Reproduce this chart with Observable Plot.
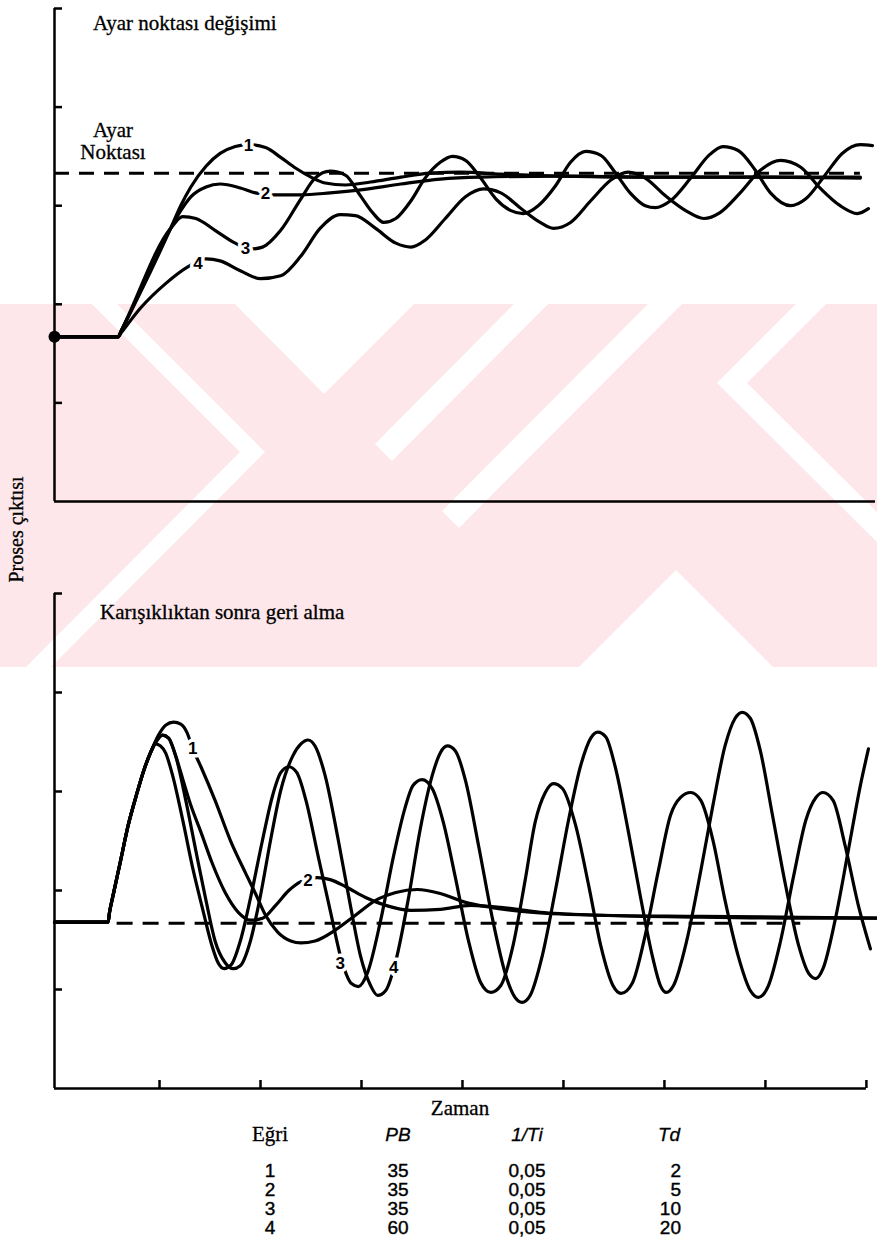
<!DOCTYPE html>
<html><head><meta charset="utf-8">
<script src="https://cdn.jsdelivr.net/npm/d3@7"></script>
<script src="https://cdn.jsdelivr.net/npm/@observablehq/plot@0.6"></script>
<style>
body{margin:0;background:#fff;}
#page{position:relative;width:877px;height:1254px;overflow:hidden;font-family:"Liberation Serif","Times New Roman",serif;color:#000;}
.abs{position:absolute;white-space:nowrap;}
#wm{position:absolute;left:0;top:0;}
#top,#bot{position:absolute;left:0;}
#top{top:0;}
#bot{top:560px;}
.ser{font-family:"Liberation Serif",serif;font-size:21px;-webkit-text-stroke:0.3px #000;}
.tbl{position:absolute;white-space:pre;font-family:"Liberation Sans",Arial,sans-serif;font-size:19px;line-height:19px;-webkit-text-stroke:0.4px #000;}
</style></head><body><div id="page">
<svg id="wm" width="877" height="1254" xmlns="http://www.w3.org/2000/svg">
  <defs><clipPath id="band"><rect x="0" y="304" width="877" height="363"/></clipPath></defs>
  <g clip-path="url(#band)">
    <rect x="0" y="304" width="877" height="363" fill="#fde7eb"/>
    <g fill="#fff">
      <polygon points="92,304 117,304 265,452 51,667 26,667 240,452"/>
      <polygon points="235,304 414,304 324,394"/>
      <polygon points="514,304 548,304 392,461 375,444"/>
      <polygon points="648,304 682,304 459,528 442,511"/>
      <polygon points="796,304 826,304 747,383 877,512 877,542 717,383"/>
      <polygon points="676,570 773,667 579,667"/>
    </g>
  </g>
</svg>
<div id="top"></div>
<div id="bot"></div>
<div class="abs ser" style="left:93px;top:11px;">Ayar noktası değişimi</div>
<div class="abs ser" style="left:68px;top:119px;width:90px;text-align:center;line-height:22px;">Ayar<br>Noktası</div>
<div class="abs ser" style="left:100px;top:600px;">Karışıklıktan sonra geri alma</div>
<div class="abs ser" style="left:-36px;top:519px;width:104px;text-align:center;transform:rotate(-90deg);font-size:20px;">Proses çıktısı</div>
<div class="abs ser" style="left:400px;top:1096px;width:120px;text-align:center;">Zaman</div>
<div id="table"></div>
</div>
<script>
// ---------- data ----------
// time in tick units (ticks at 1..8), level in tick units (ticks at 1..4)
const setpointOld = 1.67;
const setpointNew = 3.33;
const topDashSpan = [-0.04, 7.94];
const botDashSpan = [0.58, 7.35];

const topCurve1 = [[-0.04,1.67],[0.59,1.67],[0.62,1.73],[1.11,2.77],[1.21,3.00],[1.31,3.19],[1.46,3.40],[1.60,3.53],[1.75,3.60],[1.88,3.62],[2.05,3.59],[2.20,3.49],[2.35,3.38],[2.50,3.29],[2.64,3.23],[2.84,3.21],[3.09,3.24],[3.39,3.29],[3.68,3.33],[3.98,3.34],[4.38,3.32],[4.97,3.30],[5.86,3.29],[6.85,3.29],[7.94,3.28]];
const topCurve2 = [[-0.04,1.67],[0.59,1.67],[0.62,1.73],[1.11,2.77],[1.21,2.95],[1.31,3.09],[1.46,3.19],[1.60,3.22],[1.80,3.18],[1.95,3.13],[2.12,3.11],[2.40,3.11],[2.69,3.13],[2.99,3.16],[3.39,3.22],[3.78,3.27],[4.18,3.29],[4.97,3.30],[5.86,3.29],[6.85,3.29],[7.94,3.29]];
const topCurve3 = [[-0.04,1.67],[0.59,1.67],[0.62,1.73],[1.11,2.77],[1.23,2.89],[1.36,2.87],[1.55,2.75],[1.75,2.62],[1.90,2.56],[2.02,2.58],[2.20,2.75],[2.40,3.07],[2.54,3.28],[2.69,3.35],[2.84,3.31],[2.99,3.10],[3.11,2.93],[3.22,2.83],[3.34,2.87],[3.49,3.05],[3.63,3.28],[3.78,3.44],[3.90,3.50],[4.03,3.46],[4.18,3.28],[4.33,3.07],[4.48,2.95],[4.60,2.92],[4.75,3.00],[4.92,3.20],[5.07,3.44],[5.22,3.55],[5.37,3.51],[5.51,3.34],[5.66,3.13],[5.81,3.00],[5.91,2.98],[6.06,3.05],[6.26,3.28],[6.44,3.51],[6.58,3.60],[6.73,3.56],[6.90,3.36],[7.05,3.13],[7.25,3.00],[7.40,3.07],[7.59,3.31],[7.76,3.53],[7.94,3.62],[8.06,3.61]];
const topCurve4 = [[-0.04,1.67],[0.59,1.67],[0.62,1.71],[0.81,1.96],[1.06,2.21],[1.28,2.38],[1.46,2.46],[1.60,2.44],[1.80,2.34],[2.00,2.26],[2.20,2.29],[2.40,2.49],[2.59,2.77],[2.79,2.91],[2.94,2.90],[3.14,2.77],[3.34,2.62],[3.49,2.58],[3.63,2.65],[3.83,2.87],[4.03,3.09],[4.21,3.17],[4.38,3.13],[4.57,2.98],[4.77,2.83],[4.90,2.77],[5.07,2.83],[5.27,3.05],[5.47,3.26],[5.64,3.34],[5.81,3.28],[6.01,3.10],[6.21,2.95],[6.39,2.87],[6.55,2.93],[6.75,3.13],[6.95,3.36],[7.15,3.46],[7.35,3.39],[7.54,3.18],[7.74,3.00],[7.91,2.92],[8.02,2.97]];

const botStart = [[-0.04,1.68],[0.49,1.68],[0.505,1.78],[0.54,1.95],[0.61,2.28],[0.69,2.66],[0.77,2.96],[0.85,3.23],[0.91,3.39]];
const botCurve1 = [[0.99,3.57],[1.06,3.67],[1.14,3.70],[1.21,3.68],[1.27,3.60],[1.33,3.43],[1.41,3.25],[1.55,2.91],[1.70,2.51],[1.85,2.18],[1.95,1.97],[2.05,1.75],[2.17,1.58],[2.30,1.49],[2.40,1.47],[2.54,1.49],[2.74,1.60],[2.94,1.75],[3.14,1.90],[3.34,1.98],[3.55,2.01],[3.78,1.97],[4.03,1.88],[4.28,1.83],[4.67,1.78],[5.37,1.75],[6.36,1.74],[7.35,1.73],[8.11,1.72]];
const botCurve2 = [[0.97,3.51],[1.03,3.57],[1.09,3.54],[1.16,3.36],[1.24,3.09],[1.31,2.86],[1.41,2.59],[1.52,2.28],[1.65,1.98],[1.78,1.78],[1.90,1.70],[2.02,1.72],[2.15,1.85],[2.28,2.00],[2.40,2.09],[2.56,2.13],[2.69,2.11],[2.84,2.04],[3.04,1.93],[3.24,1.85],[3.49,1.80],[3.78,1.81],[4.08,1.85],[4.38,1.83],[4.77,1.78],[5.37,1.75],[6.36,1.73],[7.35,1.72],[8.11,1.72]];
const botCurve3 = [[0.96,3.48],[1.01,3.46],[1.06,3.39],[1.13,3.16],[1.23,2.71],[1.33,2.22],[1.43,1.80],[1.52,1.44],[1.58,1.27],[1.64,1.21],[1.71,1.25],[1.80,1.49],[1.90,1.92],[2.02,2.51],[2.12,2.96],[2.20,3.19],[2.28,3.25],[2.36,3.19],[2.45,2.91],[2.57,2.35],[2.69,1.80],[2.81,1.27],[2.90,1.06],[2.97,1.03],[3.06,1.17],[3.19,1.70],[3.32,2.36],[3.43,2.83],[3.51,3.06],[3.60,3.12],[3.70,3.03],[3.81,2.69],[3.93,2.13],[4.06,1.49],[4.18,1.07],[4.28,0.97],[4.38,1.04],[4.50,1.44],[4.62,2.10],[4.72,2.69],[4.82,2.99],[4.90,3.08],[4.99,3.03],[5.12,2.66],[5.25,2.05],[5.37,1.44],[5.49,1.04],[5.57,0.96],[5.68,1.06],[5.81,1.55],[5.94,2.20],[6.06,2.76],[6.16,2.94],[6.26,2.99],[6.36,2.91],[6.48,2.51],[6.60,1.90],[6.73,1.34],[6.85,0.99],[6.93,0.92],[7.03,1.04],[7.15,1.49],[7.28,2.15],[7.40,2.71],[7.50,2.94],[7.57,2.99],[7.67,2.91],[7.79,2.45],[7.92,1.85],[8.04,1.41]];
const botCurve4 = [[0.97,3.51],[1.03,3.57],[1.09,3.54],[1.16,3.36],[1.26,2.91],[1.36,2.40],[1.46,1.90],[1.55,1.49],[1.65,1.27],[1.73,1.21],[1.80,1.24],[1.90,1.49],[2.00,1.95],[2.10,2.51],[2.20,3.01],[2.32,3.36],[2.40,3.48],[2.47,3.52],[2.54,3.46],[2.64,3.16],[2.77,2.51],[2.89,1.85],[2.99,1.34],[3.09,1.04],[3.16,0.94],[3.24,0.99],[3.34,1.29],[3.47,1.95],[3.58,2.61],[3.70,3.16],[3.78,3.39],[3.85,3.46],[3.93,3.41],[4.03,3.11],[4.16,2.45],[4.30,1.70],[4.43,1.14],[4.52,0.92],[4.59,0.87],[4.67,0.94],[4.79,1.34],[4.92,2.00],[5.05,2.71],[5.17,3.26],[5.27,3.54],[5.34,3.60],[5.42,3.55],[5.51,3.26],[5.64,2.61],[5.76,1.95],[5.88,1.34],[5.96,1.04],[6.02,0.97],[6.09,1.04],[6.22,1.49],[6.36,2.20],[6.48,2.86],[6.60,3.46],[6.70,3.74],[6.77,3.80],[6.85,3.74],[6.95,3.41],[7.07,2.76],[7.20,2.05],[7.33,1.44],[7.43,1.16],[7.50,1.11],[7.57,1.21],[7.69,1.70],[7.82,2.40],[7.94,3.06],[8.02,3.43]];

const curveNames = ["1","2","3","4"];
const topLabelT = [1.88, 2.05, 1.85, 1.38];
const topLabelV = [3.61, 3.12, 2.57, 2.41];
const botLabelT = [1.33, 2.47, 2.79, 3.32];
const botLabelV = [3.43, 2.10, 1.26, 1.22];

const xTicks = [1,2,3,4,5,6,7,8];
const yTicks = [1,2,3,4,5];
const xDomain = [-0.04, 8.09];
const yDomain = [0, 5];

const tableHeader = ["Eğri", "PB", "1/Ti", "Td"];
const tableCurve = ["1","2","3","4"];
const tablePB = ["35","35","35","60"];
const tableTi = ["0,05","0,05","0,05","0,05"];
const tableTd = ["2","5","10","20"];

// ---------- build ----------
const rows = (arr, name) => arr.map(([t, v]) => ({t, v, curve: name}));
const topRows = [topCurve1, topCurve2, topCurve3, topCurve4].flatMap((c, i) => rows(c, curveNames[i]));
const botRows = [botCurve1, botCurve2, botCurve3, botCurve4].flatMap((c, i) => rows(botStart.concat(c), curveNames[i]));
const topLabels = curveNames.map((n, i) => ({t: topLabelT[i], v: topLabelV[i], label: n}));
const botLabels = curveNames.map((n, i) => ({t: botLabelT[i], v: botLabelV[i], label: n}));

const lineOpts = {x: "t", y: "v", z: "curve", curve: "monotone-x", stroke: "black", strokeWidth: 3.2, strokeLinejoin: "round", strokeLinecap: "round"};
const labelOpts = {x: "t", y: "v", text: "label", fill: "black", stroke: "white", strokeWidth: 7, fontSize: 17, fontFamily: "Liberation Sans, Arial, sans-serif", fontWeight: "bold"};

const topPlot = Plot.plot({
  width: 877, height: 520,
  marginLeft: 54, marginRight: 2, marginTop: 8, marginBottom: 19,
  style: {background: "transparent", overflow: "visible"},
  x: {domain: xDomain, axis: null},
  y: {domain: yDomain, axis: null},
  marks: [
    Plot.ruleY([setpointNew], {x1: topDashSpan[0], x2: topDashSpan[1], stroke: "black", strokeWidth: 3, strokeDasharray: "15,10"}),
    Plot.line(topRows, lineOpts),
    Plot.text(topLabels, labelOpts),
    Plot.dot([{t: topCurve1[0][0], v: topCurve1[0][1]}], {x: "t", y: "v", r: 6, fill: "black"}),
    Plot.axisY({ticks: yTicks, tickSize: -8, tickFormat: () => "", strokeWidth: 2.5, label: null}),
    Plot.ruleX([xDomain[0]], {stroke: "black", strokeWidth: 2.5}),
    Plot.ruleY([yDomain[0]], {stroke: "black", strokeWidth: 2.5})
  ]
});
document.getElementById("top").appendChild(topPlot);

const botPlot = Plot.plot({
  width: 877, height: 540,
  marginLeft: 54, marginRight: 2, marginTop: 33, marginBottom: 12,
  style: {background: "transparent", overflow: "visible"},
  x: {domain: xDomain, axis: null},
  y: {domain: yDomain, axis: null},
  marks: [
    Plot.ruleY([setpointOld], {x1: botDashSpan[0], x2: botDashSpan[1], stroke: "black", strokeWidth: 3, strokeDasharray: "16,10"}),
    Plot.line(botRows, lineOpts),
    Plot.text(botLabels, labelOpts),
    Plot.axisY({ticks: yTicks, tickSize: -8, tickFormat: () => "", strokeWidth: 2.5, label: null}),
    Plot.axisX({ticks: xTicks, tickSize: -8, tickFormat: () => "", strokeWidth: 2.5, label: null}),
    Plot.ruleX([xDomain[0]], {stroke: "black", strokeWidth: 2.5}),
    Plot.ruleY([yDomain[0]], {x1: xDomain[0], x2: xTicks[xTicks.length - 1], stroke: "black", strokeWidth: 2.5})
  ]
});
document.getElementById("bot").appendChild(botPlot);

// table: one block per column
const tbl = document.getElementById("table");
const colCenters = [270, 398, 527, 669];
const cols = [tableCurve, tablePB, tableTi, tableTd];
tableHeader.forEach((h, j) => {
  const d = document.createElement("div");
  d.className = "abs";
  d.textContent = h;
  d.style.cssText = `left:${colCenters[j]-50}px;top:${j===0?1122:1124}px;width:100px;text-align:center;font-size:${j===0?21:19}px;-webkit-text-stroke:0.3px #000;` +
    (j === 0 ? 'font-family:"Liberation Serif",serif;' : 'font-family:"Liberation Sans",Arial,sans-serif;font-style:italic;');
  tbl.appendChild(d);
});
cols.forEach((col, j) => {
  const d = document.createElement("div");
  d.className = "tbl";
  d.textContent = col.join("\n");
  if (j === 3) d.style.cssText = `left:${681-100}px;width:100px;text-align:right;top:1161px;`;
  else d.style.cssText = `left:${colCenters[j]-50}px;width:100px;text-align:center;top:1161px;`;
  tbl.appendChild(d);
});
</script>
</body></html>
